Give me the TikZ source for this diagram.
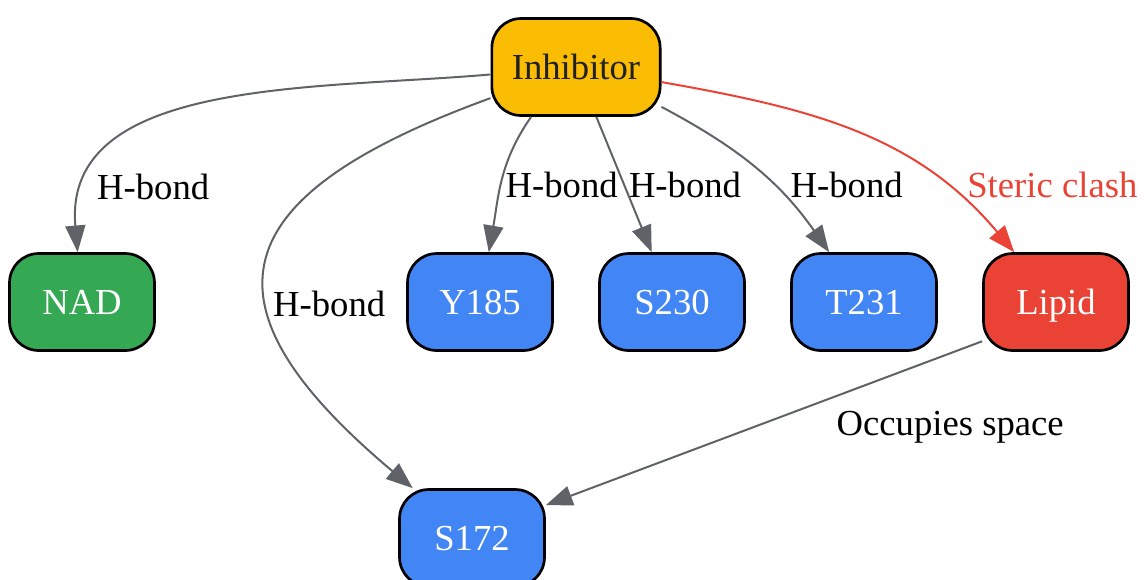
\documentclass[tikz,border=0pt]{standalone}
\usepackage{fontspec}
\setmainfont{Liberation Serif}
\usetikzlibrary{positioning,arrows.meta}
\definecolor{gyellow}{HTML}{FBBC04}
\definecolor{ggreen}{HTML}{34A853}
\definecolor{gblue}{HTML}{4285F4}
\definecolor{gred}{HTML}{EA4335}
\definecolor{ggray}{HTML}{5F6368}
\definecolor{gdark}{HTML}{202124}

\begin{document}
\begin{tikzpicture}[on grid=true, node distance=176.25pt and 144pt,
    font=\fontsize{27.5pt}{33pt}\selectfont,
    box/.style={draw=black, line width=2pt, rounded corners=22pt, minimum width=108.75pt,
      minimum height=72.75pt, inner xsep=15pt, text height=22pt, text depth=3pt, text=white},
    edge/.style={color=ggray, line width=1.5pt, -{Triangle[length=20pt,width=15pt]}},
    lbl/.style={anchor=west, inner sep=3pt, text=black}]
    \useasboundingbox (0,0) rectangle (858pt,-434.25pt);

    \node[box, fill=gyellow, text=gdark] (inh) at (432pt,-50.25pt) {Inhibitor};
    \node[box, fill=gblue, below left=176.25pt and 72pt of inh] (y185) {Y185};
    \node[box, fill=ggreen, left=298.5pt of y185] (nad) {NAD};
    \node[box, fill=gblue, right=of y185] (s230) {S230};
    \node[box, fill=gblue, right=of s230] (t231) {T231};
    \node[box, fill=gred, right=of t231] (lip) {Lipid};
    \node[box, fill=gblue, below left=177pt and 6pt of y185] (s172) {S172};

    \draw[edge] (inh) to[out=185, in=95] node[lbl, pos=.855, xshift=4pt] {H-bond} (nad);
    \draw[edge] (inh) to[out=200, in=140, looseness=1.85] node[lbl, pos=.61] {H-bond} (s172);
    \draw[edge] (inh.228) to[out=235, in=80] node[lbl, pos=.53] {H-bond} (y185);
    \draw[edge] (inh) -- node[lbl, pos=.5] {H-bond} (s230);
    \draw[edge] (inh.-25) to[out=-28, in=125] node[lbl, pos=.62, xshift=9pt] {H-bond} (t231);
    \draw[edge, color=gred] (inh.-10) to[out=-10, in=130] node[lbl, text=gred, pos=.77, xshift=13pt] {Steric clash} (lip);
    \draw[edge] (lip.208) -- node[pos=.345, anchor=north west, inner sep=3pt, yshift=-6pt, text=black] {Occupies space} (s172.24);
\end{tikzpicture}
\end{document}
